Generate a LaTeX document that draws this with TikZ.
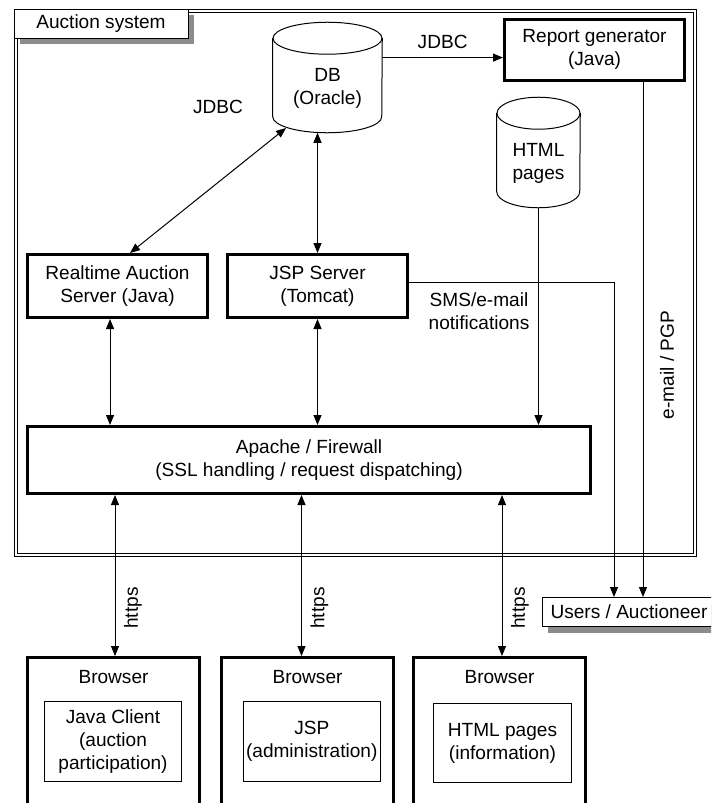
\documentclass[tikz,border=0pt]{standalone}
\usepackage{fontspec}
\setmainfont{Liberation Sans}
\usepackage{tikz}
\usetikzlibrary{arrows.meta,shadows,calc}
\tikzset{
  lab/.style={font=\fontsize{14.3}{17.3}\selectfont, align=center, inner sep=0pt},
  srv/.style={lab, draw, line width=2.25pt, fill=white},
  frm/.style={lab, draw, line width=0.75pt, fill=white},
  shad/.style={drop shadow={shadow xshift=4.5pt, shadow yshift=-4.5pt, fill=black!45, opacity=1}},
  store/.style={lab, inner sep=0pt},
  drum/.style={line width=0.75pt},
  con/.style={line width=0.75pt, -{Triangle[length=7.5pt,width=6pt]}},
  con2/.style={line width=0.75pt, {Triangle[length=7.5pt,width=6pt]}-{Triangle[length=7.5pt,width=6pt]}},
}
% cylinder outline round a storage node: #1 node, #2 half width
\newcommand\drum[2]{%
  \draw[drum] ([yshift=-12pt]#1.north west) -- ([yshift=12pt]#1.south west)
    arc[start angle=180, end angle=360, x radius=#2, y radius=12pt]
    -- ([yshift=-12pt]#1.north east);
  \draw[drum] ([yshift=-12pt]#1.north) ellipse [x radius=#2, y radius=12pt];
}
\begin{document}
\begin{tikzpicture}[x=0.75pt, y=-0.75pt]
  \useasboundingbox (0,0) rectangle (711,803);
  \clip (0,0) rectangle (711,803);
  % system boundary
  \draw[line width=0.75pt, double, double distance=1.5pt] (15.5,10.5) rectangle (695,555);
  \node[frm, shad, minimum width=130.5pt, minimum height=21.75pt] (sys) at (101,23.5) {Auction system};

  % storage
  \node[store, minimum width=81.75pt, minimum height=82.5pt,
    label={[lab, yshift=-8pt]center:{DB\\(Oracle)}}] (db) at (327.5,77.5) {};
  \drum{db}{40.875pt}
  \node[store, minimum width=62.25pt, minimum height=82.5pt,
    label={[lab, yshift=-8.5pt]center:{HTML\\pages}}] (html) at (538.5,152.5) {};
  \drum{html}{31.125pt}

  % servers
  \node[srv, minimum width=135pt, minimum height=45.75pt] (report) at (594.5,49.5) {Report generator\\(Java)};
  \node[srv, minimum width=135pt, minimum height=47.25pt] (rt) at (117.5,286) {Realtime Auction\\Server (Java)};
  \node[srv, minimum width=135pt, minimum height=47.25pt] (jsp) at (317.5,286) {JSP Server\\(Tomcat)};
  \node[srv, minimum width=422.25pt, minimum height=50.25pt] (apache) at (309,460) {Apache / Firewall\\(SSL handling / request dispatching)};
  \node[frm, shad, minimum width=130pt, minimum height=21.75pt] (users) at (629,612) {Users / Auctioneer};

  % connections inside
  \coordinate (dbrt) at (286,128);
  \draw[con] (db.20) -- (report.west |- db.20) node[lab, midway, above=6pt] (jdbc1) {JDBC};
  \draw[con2] ([xshift=9.4pt]rt.north) -- (dbrt);
  \node[lab] (jdbc2) at (218,107) {JDBC};
  \draw[con2] (jsp.north) -- (jsp.north |- db.south);
  \coordinate (rtx) at ([xshift=-5.6pt]rt.south);
  \draw[con2] (rtx) -- (rtx |- apache.north);
  \draw[con2] (jsp.south) -- (jsp.south |- apache.north);
  \draw[con] (html.south) -- (html.south |- apache.north);

  % notifications
  \coordinate (smsx) at (614,0);
  \coordinate (mailx) at (643,0);
  \draw[con] ([yshift=3pt]jsp.east) -| (smsx |- users.north);
  \node[lab] (sms) at (479,311) {SMS/e-mail\\notifications};
  \draw[con] (mailx |- report.south) -- (mailx |- users.north);
  \node[lab, rotate=90] (pgp) at (667,365) {e-mail / PGP};

  % browsers
  \foreach \i/\x/\ax/\ix/\iy/\txt in {1/113.5/115/113/741.5/{Java Client\\(auction\\participation)},
      2/307.5/301.5/311.75/741.5/{JSP\\(administration)},
      3/499.5/502/502.5/743/{HTML pages\\(information)}} {
    \node[srv, minimum width=129pt, minimum height=150pt] (b\i) at (\x,757.5) {};
    \node[lab] (b\i t) at (\x,677) {Browser};
    \node[frm, minimum width=103pt, minimum height=59.5pt] (c\i) at (\ix,\iy) {\txt};
    \coordinate (h\i) at (\ax,600);
    \draw[con2] (h\i |- apache.south) -- (h\i |- b\i.north);
    \node[lab, rotate=90] (s\i) at (\ax+18,608) {https};
  }
\end{tikzpicture}
\end{document}
